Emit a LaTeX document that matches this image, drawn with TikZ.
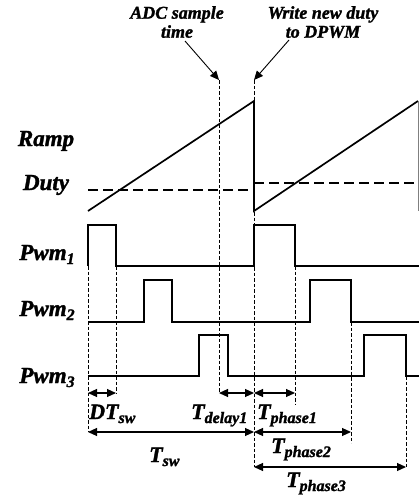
\documentclass[tikz,border=0pt]{standalone}
\usepackage{fontspec}
\setmainfont{Liberation Serif}[BoldItalicFont={Liberation Serif Bold Italic}, BoldItalicFeatures={FakeBold=1.5}]
\usetikzlibrary{arrows.meta}
\newcommand\sbs[1]{\raisebox{-4pt}{\fontsize{16}{16}\selectfont #1}}
\begin{document}
\begin{tikzpicture}[x=1pt,y=-1pt,
  sig/.style={line width=1.7pt, line join=miter},
  guide/.style={line width=0.6pt, dash pattern=on 3.5pt off 2pt},
  dutyline/.style={line width=1.7pt, dash pattern=on 10pt off 5pt},
  dim/.style={{Triangle[length=9pt,width=8pt]}-{Triangle[length=9pt,width=8pt]}, line width=1.1pt},
  pointer/.style={-{Triangle[length=9pt,width=8pt]}, line width=0.9pt},
  biglbl/.style={font=\fontsize{23}{23}\selectfont\bfseries\itshape, inner sep=0pt, anchor=base},
  tlbl/.style={font=\fontsize{22}{22}\selectfont\bfseries\itshape, inner sep=0pt, anchor=base west},
  toplbl/.style={font=\fontsize{18}{19}\selectfont\bfseries\itshape, inner sep=0pt, anchor=north, align=center}]
\useasboundingbox (0,0) rectangle (419,495);

% left labels
\node[biglbl] (ramp) at (46,146) {Ramp};
\node[biglbl] (duty) at (46,190) {Duty};
\node[biglbl] (pwm1) at (47,260) {Pwm\sbs{1}};
\node[biglbl] (pwm2) at (47,316) {Pwm\sbs{2}};
\node[biglbl] (pwm3) at (47,383) {Pwm\sbs{3}};

% top labels
\node[toplbl] (adc) at (177,6) {ADC sample\\time};
\node[toplbl] (wr) at (323,6) {Write new duty\\to DPWM};

% guide lines
\coordinate (g0a) at (88,266);  \coordinate (g0b) at (88,432);
\coordinate (g1a) at (116,266); \coordinate (g1b) at (116,393);
\coordinate (gAa) at (219,80);  \coordinate (gAb) at (219,393);
\coordinate (gWa) at (254,80);  \coordinate (gWb) at (254,467);
\coordinate (g2a) at (295,266); \coordinate (g2b) at (295,405);
\coordinate (g3a) at (351,322); \coordinate (g3b) at (351,443);
\coordinate (g4a) at (406,376); \coordinate (g4b) at (406,467);
\foreach \p in {g0,g1,gA,gW,g2,g3,g4} \draw[guide] (\p a) -- (\p b);

% pointers
\coordinate (adcS) at (185,41);
\coordinate (wrS) at (289,40);
\draw[pointer] (adcS) -- (gAa);
\draw[pointer] (wrS) -- (gWa);

% ramp and duty
\draw[sig] (88,211) -- (254,101) -- (254,211) -- (418,101);
\draw[gray, line width=0.8pt] (418,101) -- (418,211);
\draw[dutyline] (88,190) -- (254,190);
\draw[dutyline] (254,183) -- (419,183);

% PWM signals
\draw[sig] (88,266) -- (88,225) -- (116,225) -- (116,266) -- (254,266) -- (254,225) -- (295,225) -- (295,266) -- (419,266);
\draw[sig] (88,322) -- (144,322) -- (144,280) -- (172,280) -- (172,322) -- (310,322) -- (310,280) -- (351,280) -- (351,322) -- (419,322);
\draw[sig] (88,376) -- (199,376) -- (199,335) -- (228,335) -- (228,376) -- (364,376) -- (364,335) -- (406,335) -- (406,376) -- (419,376);

% dimension arrows
\coordinate (d0) at (88,393);  \coordinate (d1) at (116,393);
\coordinate (dA) at (219,393); \coordinate (dW) at (254,393);
\coordinate (d2) at (295,393);
\coordinate (s0) at (88,432);  \coordinate (sW) at (254,432); \coordinate (s3) at (351,432);
\coordinate (t0) at (254,467); \coordinate (t4) at (406,467);
\draw[dim] (d0) -- (d1);
\draw[dim] (dA) -- (dW);
\draw[dim] (dW) -- (d2);
\draw[dim] (s0) -- (sW);
\draw[dim] (sW) -- (s3);
\draw[dim] (t0) -- (t4);

% time labels
\node[tlbl] (dtsw) at (89,419) {DT\sbs{sw}};
\node[tlbl] (tdel) at (191,419) {T\sbs{delay1}};
\node[tlbl] (tph1) at (257,419) {T\sbs{phase1}};
\node[tlbl] (tsw) at (149,462) {T\sbs{sw}};
\node[tlbl] (tph2) at (271,453) {T\sbs{phase2}};
\node[tlbl] (tph3) at (286,487) {T\sbs{phase3}};
\end{tikzpicture}
\end{document}
